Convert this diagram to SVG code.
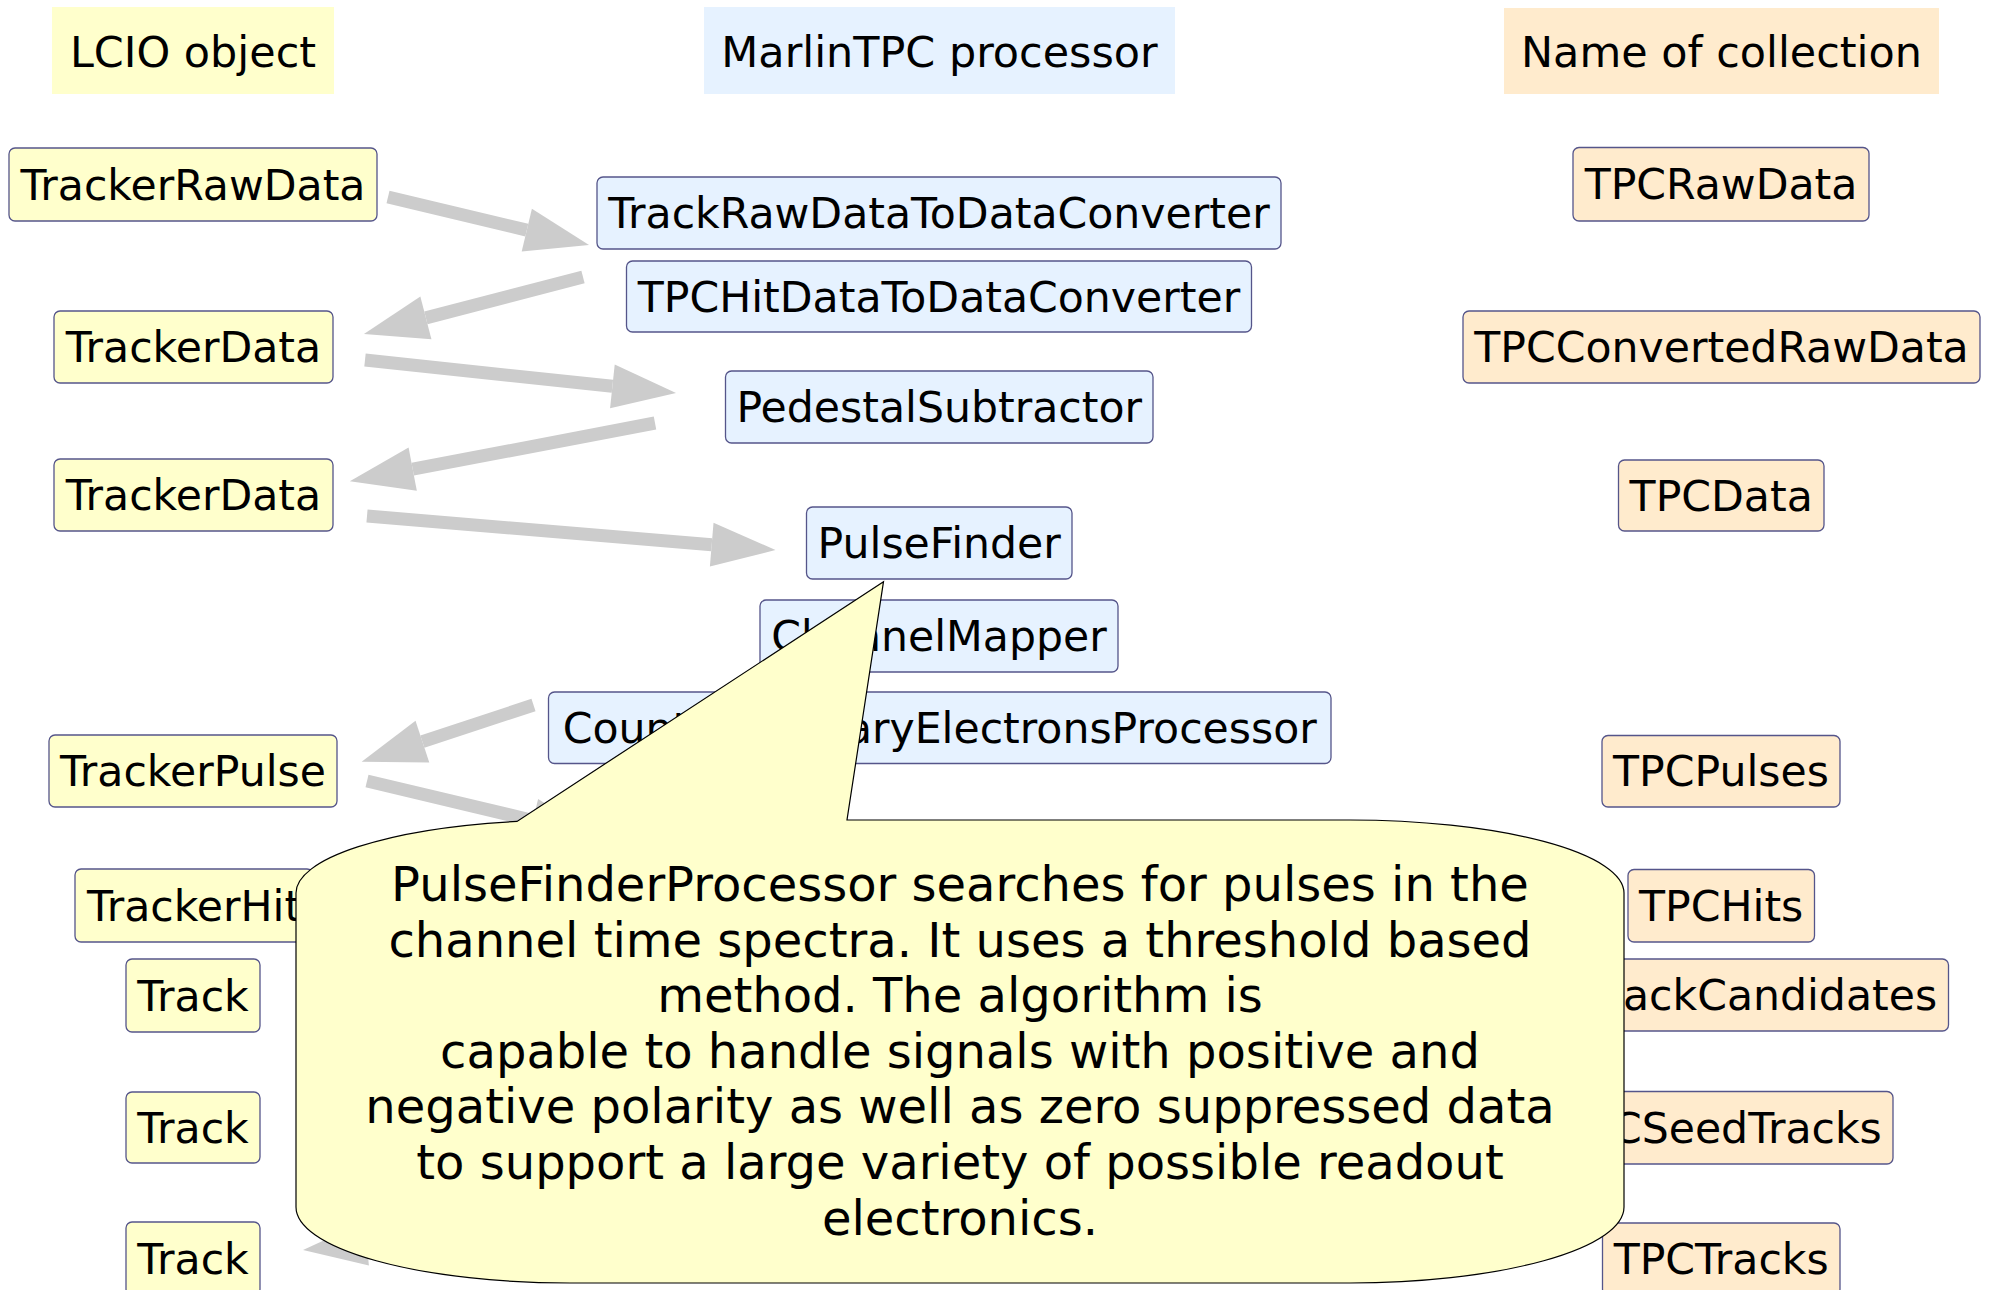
<svg xmlns="http://www.w3.org/2000/svg" width="1989" height="1290" viewBox="0 0 1989 1290">
<style>
text{font-family:"DejaVu Sans","Liberation Sans",sans-serif;font-size:42.6px;fill:#000;text-anchor:middle}
.n rect{stroke:#55558a;stroke-width:1.3}
.y rect{fill:#ffffcc}
.b rect{fill:#e6f2ff}
.o rect{fill:#ffebcd}
.h rect{stroke:none}
.h text{font-size:42.9px}
.c line{stroke:#cccccc;stroke-width:13;marker-end:url(#ah)}
.callout path{fill:#ffffcc;stroke:#000;stroke-width:1.2}
.callout text{font-size:48px}
</style>
<defs>
<marker id="ah" markerUnits="userSpaceOnUse" markerWidth="66" markerHeight="46" refX="0" refY="22" orient="auto" overflow="visible">
<path d="M0,0 L64,22 L0,44 z" fill="#cccccc"/>
</marker>
</defs>
<rect width="1989" height="1290" fill="#fff"/>

<g id="hdr-lcio" class="y h"><rect x="52" y="7" width="282" height="87"/><text x="193" y="67">LCIO object</text></g>
<g id="hdr-marlin" class="b h"><rect x="704" y="7" width="471" height="87"/><text x="939.5" y="67">MarlinTPC processor</text></g>
<g id="hdr-coll" class="o h"><rect x="1504" y="8" width="435" height="86"/><text x="1721.5" y="67">Name of collection</text></g>

<g id="l-trackerrawdata" class="n y"><rect x="9" y="148" width="368" height="73" rx="6"/><text x="193" y="199.5">TrackerRawData</text></g>
<g id="l-trackerdata1" class="n y"><rect x="54" y="311" width="279" height="72" rx="6"/><text x="193.5" y="362">TrackerData</text></g>
<g id="l-trackerdata2" class="n y"><rect x="54" y="459" width="279" height="72" rx="6"/><text x="193.5" y="510">TrackerData</text></g>
<g id="l-trackerpulse" class="n y"><rect x="49" y="735" width="288" height="72" rx="6"/><text x="193" y="786">TrackerPulse</text></g>
<g id="l-trackerhit" class="n y"><rect x="75" y="869" width="238" height="73" rx="6"/><text x="194" y="920.5">TrackerHit</text></g>
<g id="l-track1" class="n y"><rect x="126" y="959" width="134" height="73" rx="6"/><text x="193" y="1010.5">Track</text></g>
<g id="l-track2" class="n y"><rect x="126" y="1092" width="134" height="71" rx="6"/><text x="193" y="1142.5">Track</text></g>
<g id="l-track3" class="n y"><rect x="126" y="1222" width="134" height="73" rx="6"/><text x="193" y="1273.5">Track</text></g>

<g id="p-rawconv" class="n b"><rect x="597" y="177" width="684" height="72" rx="6"/><text x="939" y="228">TrackRawDataToDataConverter</text></g>
<g id="p-hitconv" class="n b"><rect x="626.5" y="261" width="625" height="71" rx="6"/><text x="939" y="311.5">TPCHitDataToDataConverter</text></g>
<g id="p-pedestal" class="n b"><rect x="725.5" y="371" width="427.5" height="72" rx="6"/><text x="939.2" y="422">PedestalSubtractor</text></g>
<g id="p-pulsefinder" class="n b"><rect x="806.5" y="507" width="265.5" height="72" rx="6"/><text x="939.2" y="558">PulseFinder</text></g>
<g id="p-channelmapper" class="n b"><rect x="760" y="600" width="358" height="72" rx="6"/><text x="939" y="651">ChannelMapper</text></g>
<g id="p-countelectrons" class="n b"><rect x="548.5" y="692" width="782.5" height="71.5" rx="6"/><text x="939.7" y="743">CountSecondaryElectronsProcessor</text></g>

<g id="c-tpcrawdata" class="n o"><rect x="1573" y="147.5" width="296" height="73.5" rx="6"/><text x="1721" y="199">TPCRawData</text></g>
<g id="c-tpcconverted" class="n o"><rect x="1463" y="311" width="517" height="72" rx="6"/><text x="1721.5" y="362">TPCConvertedRawData</text></g>
<g id="c-tpcdata" class="n o"><rect x="1618.5" y="460" width="205.5" height="71" rx="6"/><text x="1721.2" y="510.5">TPCData</text></g>
<g id="c-tpcpulses" class="n o"><rect x="1602" y="735.5" width="238" height="71.5" rx="6"/><text x="1721" y="786">TPCPulses</text></g>
<g id="c-tpchits" class="n o"><rect x="1628" y="869.5" width="186.5" height="72.5" rx="6"/><text x="1721.2" y="921">TPCHits</text></g>
<g id="c-tpctrackcand" class="n o"><rect x="1493" y="959" width="455.5" height="72" rx="6"/><text x="1720.7" y="1010">TPCTrackCandidates</text></g>
<g id="c-tpcseedtracks" class="n o"><rect x="1549" y="1091.5" width="344" height="72.5" rx="6"/><text x="1721" y="1143">TPCSeedTracks</text></g>
<g id="c-tpctracks" class="n o"><rect x="1602.5" y="1223" width="237.5" height="72" rx="6"/><text x="1721.2" y="1274">TPCTracks</text></g>

<g id="connectors" class="c">
<line x1="388" y1="197" x2="526.8" y2="230.1"/>
<line x1="583" y1="277" x2="425.9" y2="317.9"/>
<line x1="365" y1="360" x2="612.4" y2="386.3"/>
<line x1="655" y1="423" x2="412.7" y2="469.2"/>
<line x1="367" y1="516" x2="711.7" y2="544.7"/>
<line x1="533.5" y1="705" x2="422.4" y2="741.6"/>
<line x1="367" y1="781" x2="533" y2="820.5"/>
<line x1="600" y1="1220" x2="366.7" y2="1243.6"/>
</g>

<g id="callout" class="callout">
<path d="M296,893 A274,73 0 0 1 517,821.4 L883.5,581.7 L847,820 L1350,820 A274,73 0 0 1 1624,893 L1624,1207 A274,76 0 0 1 1350,1283 L570,1283 A274,76 0 0 1 296,1207 Z"/>
<text x="960" y="901">PulseFinderProcessor searches for pulses in the</text>
<text x="960" y="957">channel time spectra. It uses a threshold based</text>
<text x="960" y="1012">method. The algorithm is</text>
<text x="960" y="1068">capable to handle signals with positive and</text>
<text x="960" y="1123">negative polarity as well as zero suppressed data</text>
<text x="960" y="1179">to support a large variety of possible readout</text>
<text x="960" y="1235">electronics.</text>
</g>
</svg>
